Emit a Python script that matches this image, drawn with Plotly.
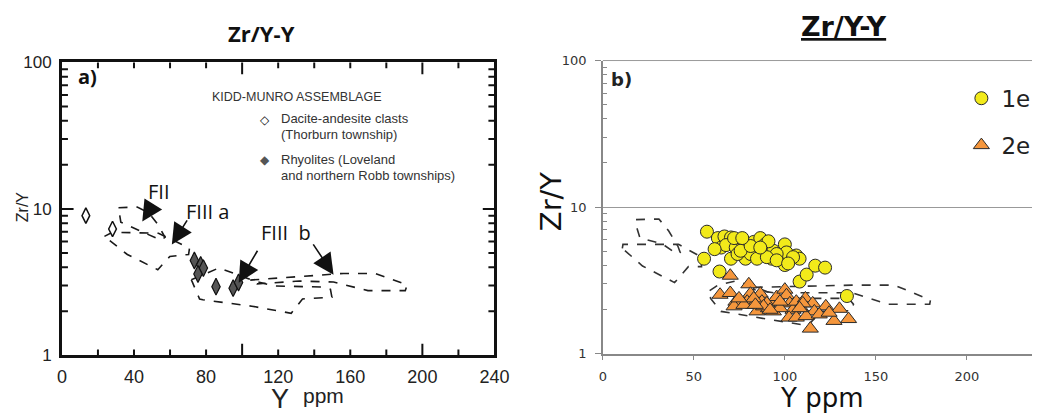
import plotly.graph_objects as go
import math

W, H = 1047, 417

# ---------------- panel a) data ----------------
dacite_y = [13.3, 28.1]
dacite_zry = [9.0, 7.3]
rhyolite_y = [73.5, 77.0, 78.5, 75.5, 85.5, 95.0, 98.0]
rhyolite_zry = [4.45, 4.15, 3.95, 3.6, 2.95, 2.88, 3.15]

# field outlines, panel a)
fii_a_y = [31.4, 41.8, 48.1, 53.6, 57.2, 55.0, 46.3, 32.7]
fii_a_zry = [10.2, 10.3, 9.44, 7.73, 6.40, 6.12, 6.83, 8.13]
fiiia_a_y = [23.6, 28.1, 53.6, 62.6, 70.8, 70.3, 59.9, 53.2, 36.3]
fiiia_a_zry = [6.50, 6.93, 6.83, 6.03, 5.40, 4.89, 4.74, 3.85, 4.89]
fiii_low_a_y = [71.8, 87.2, 107.2, 118.1, 145.3, 149.0, 149.8, 133.5, 127.2, 105.4, 78.2, 76.4]
fiii_low_a_zry = [3.29, 3.96, 3.21, 2.98, 2.93, 2.83, 2.50, 2.43, 1.94, 2.17, 2.40, 2.43]
fiiib_a_y = [104.5, 156.2, 173.6, 191.6, 190.5, 169.8, 150.7, 131.7, 108.3]
fiiib_a_zry = [3.27, 3.63, 3.63, 3.03, 2.77, 2.77, 3.17, 3.22, 3.08]

# ---------------- panel b) data ----------------
g1e_y = [57.2, 63.2, 66.8, 70.4, 65.0, 67.7, 73.0, 70.4, 75.7, 77.5, 79.3, 78.4,
         82.9, 86.5, 83.8, 89.2, 87.4, 91.9, 92.8, 97.3, 100.0, 100.9, 106.3, 108.1,
         100.0, 55.6, 64.1, 108.1, 112.0, 116.7, 122.1, 134.1, 61.4, 74.0, 81.2, 93.7,
         95.5, 104.5, 84.7, 90.1, 72.1, 75.7, 81.2, 95.5, 101.8, 76.6, 91.0, 86.5]
g1e_zry = [6.79, 6.14, 6.30, 6.20, 5.29, 5.50, 5.29, 4.44, 5.99, 5.84, 5.16, 4.44,
           5.78, 6.14, 5.03, 5.56, 4.78, 5.16, 4.44, 4.55, 5.56, 4.90, 4.67, 4.44,
           4.02, 4.44, 3.63, 3.10, 3.46, 3.98, 3.86, 2.47, 5.16, 4.78, 4.78, 5.03,
           4.78, 4.55, 4.44, 4.55, 6.14, 5.03, 5.42, 4.33, 4.12, 6.14, 5.84, 5.29]

g2e_y = [70.0, 64.4, 70.0, 73.1, 72.1, 80.2, 81.1, 79.3, 82.9, 86.5, 87.4, 84.7,
         91.0, 93.7, 95.5, 100.0, 100.9, 102.7, 104.5, 106.3, 109.0, 111.3, 115.3, 116.2,
         122.5, 130.0, 135.0, 127.0, 114.0, 102.3, 106.3, 111.7, 118.9, 124.3, 93.7, 90.1,
         82.9, 77.5, 74.8, 97.3, 109.9, 97.3, 88.3, 91.9, 83.8, 108.1]
g2e_zry = [3.40, 2.52, 2.59, 2.26, 2.10, 2.97, 2.56, 2.26, 2.15, 2.56, 2.26, 1.94,
           2.04, 2.26, 2.43, 2.73, 2.50, 2.20, 1.99, 2.26, 2.04, 2.38, 2.20, 1.94,
           2.10, 2.02, 1.72, 1.67, 1.48, 1.76, 1.76, 1.80, 1.85, 1.90, 1.94, 2.20,
           2.38, 2.15, 2.38, 2.04, 2.20, 2.26, 2.10, 1.99, 2.15, 2.04]

# field outlines, panel b)
fii_b_y = [18.2, 30.8, 36.2, 41.2, 42.5, 40.2, 32.6, 20.4, 18.8]
fii_b_zry = [8.21, 8.29, 6.86, 5.42, 4.90, 4.83, 5.61, 6.14, 7.13]
fiiia_b_y = [10.7, 11.05, 41.6, 47.9, 54.2, 54.2, 47.0, 39.4, 21.8]
fiiia_b_zry = [5.23, 5.56, 5.56, 5.03, 4.55, 3.92, 3.92, 3.05, 3.96]
fiii_low_b_y = [58.7, 63.2, 73.1, 86.5, 99.1, 135.0, 137.7, 136.8, 119.8, 112.6, 90.1, 64.9, 59.2]
fiii_low_b_zry = [2.69, 2.93, 3.13, 2.76, 2.38, 2.38, 2.17, 1.96, 1.94, 1.55, 1.72, 1.94, 2.38]
fiiib_b_y = [82.9, 136.8, 160.2, 180.0, 179.6, 156.6, 136.8, 93.7, 82.9]
fiiib_b_zry = [2.83, 2.93, 2.93, 2.32, 2.17, 2.17, 2.60, 2.60, 2.73]

# arrows in panel a): (tail Y, tail Zr/Y, tip Y, tip Zr/Y)
arrows_a = [
    (51.0, 10.96, 44.6, 8.20),
    (70.0, 8.55, 61.0, 5.72),
    (109.0, 5.31, 98.1, 3.14),
    (138.9, 5.87, 150.7, 3.56),
]

x_labels_a = [0, 40, 80, 120, 160, 200, 240]
x_long_a = [100, 200]
x_labels_b = [0, 50, 100, 150, 200]
major_log = [1, 10, 100]
minor_log = [2, 3, 4, 5, 6, 7, 8, 9, 20, 30, 40, 50, 60, 70, 80, 90]


def closed(seq):
    return list(seq) + [seq[0]]


def px(x):
    return x / W


def py(y):
    return 1 - y / H


fig = go.Figure()

# ---- panel a) fields ----
for xs, ys in [(fii_a_y, fii_a_zry), (fiiia_a_y, fiiia_a_zry),
               (fiii_low_a_y, fiii_low_a_zry), (fiiib_a_y, fiiib_a_zry)]:
    fig.add_trace(go.Scatter(x=closed(xs), y=closed(ys), mode="lines",
                             line=dict(color="#1a1a1a", width=1.6, dash="dash"),
                             xaxis="x", yaxis="y", showlegend=False, hoverinfo="skip"))

fig.add_trace(go.Scatter(x=dacite_y, y=dacite_zry, mode="markers",
                         marker=dict(symbol="diamond-tall", size=11, color="white",
                                     line=dict(color="#111", width=1.5)),
                         xaxis="x", yaxis="y", showlegend=False))
fig.add_trace(go.Scatter(x=rhyolite_y, y=rhyolite_zry, mode="markers",
                         marker=dict(symbol="diamond-tall", size=12, color="#555555",
                                     line=dict(color="#111", width=1.2)),
                         xaxis="x", yaxis="y", showlegend=False))

# ---- panel b) fields ----
for xs, ys in [(fii_b_y, fii_b_zry), (fiiia_b_y, fiiia_b_zry),
               (fiii_low_b_y, fiii_low_b_zry), (fiiib_b_y, fiiib_b_zry)]:
    fig.add_trace(go.Scatter(x=closed(xs), y=closed(ys), mode="lines",
                             line=dict(color="#333333", width=1.6, dash="dash"),
                             xaxis="x2", yaxis="y2", showlegend=False, hoverinfo="skip"))

fig.add_trace(go.Scatter(x=g1e_y, y=g1e_zry, mode="markers", name="1e",
                         legendgroup="g1",
                         marker=dict(symbol="circle", size=13, color="#F2EA1A",
                                     line=dict(color="#2a2a2a", width=1)),
                         xaxis="x2", yaxis="y2"))
fig.add_trace(go.Scatter(x=g2e_y, y=g2e_zry, mode="markers", name="2e",
                         legendgroup="g2",
                         marker=dict(symbol="triangle-up", size=14, color="#F5963C",
                                     line=dict(color="#2a2a2a", width=1)),
                         xaxis="x2", yaxis="y2"))

ann = []
# arrows
for tx, ty, hx, hy in arrows_a:
    ann.append(dict(x=hx, y=math.log10(hy), ax=tx, ay=math.log10(ty),
                    xref="x", yref="y", axref="x", ayref="y", text="",
                    showarrow=True, arrowhead=2, arrowsize=2.6, arrowwidth=1.6,
                    arrowcolor="#111"))

lab_font = dict(family="Open Sans, Arial", size=20, color="#111")
ann += [
    dict(x=px(157), y=py(191), text="FII", font=lab_font),
    dict(x=px(206), y=py(212), text="FIII a", font=lab_font),
    dict(x=px(286), y=py(234), text="FIII  b", font=lab_font),
    dict(x=px(84), y=py(71), text="<b>a)</b>",
         font=dict(family="Open Sans, Arial", size=20, color="#111")),
    dict(x=px(629), y=py(74), text="<b>b)</b>",
         font=dict(family="DejaVu Sans", size=18, color="#222")),
    # titles
    dict(x=px(262), y=py(25), text="<b>Zr/Y-Y</b>",
         font=dict(family="Open Sans, Arial", size=22, color="#111")),
    dict(x=px(855), y=py(18), text="<b><u>Zr/Y-Y</u></b>",
         font=dict(family="DejaVu Sans", size=27, color="#111")),
    # axis titles panel a)
    dict(x=px(18), y=py(207), text="Zr/Y", textangle=-90,
         font=dict(family="Liberation Sans", size=16, color="#222")),
    dict(x=px(280), y=py(409), text="Y",
         font=dict(family="Liberation Sans", size=27, color="#222")),
    dict(x=px(325), y=py(405), text="ppm",
         font=dict(family="Liberation Sans", size=21, color="#222")),
    # axis titles panel b)
    dict(x=px(832), y=py(408), text="Y ppm",
         font=dict(family="DejaVu Sans", size=26, color="#111")),
    dict(x=px(556), y=py(201), text="Zr/Y", textangle=-90,
         font=dict(family="DejaVu Sans", size=29, color="#111")),
    # legend block panel a)
    dict(x=px(209), y=py(92), text="KIDD-MUNRO ASSEMBLAGE", xanchor="left",
         font=dict(family="Liberation Sans", size=12.5, color="#333")),
    dict(x=px(265), y=py(116), text="◇", xanchor="center",
         font=dict(family="DejaVu Sans", size=12, color="#111")),
    dict(x=px(279), y=py(115), text="Dacite-andesite clasts", xanchor="left",
         font=dict(family="Liberation Sans", size=13, color="#333")),
    dict(x=px(279), y=py(131), text="(Thorburn township)", xanchor="left",
         font=dict(family="Liberation Sans", size=13, color="#333")),
    dict(x=px(265), y=py(158), text="◆", xanchor="center",
         font=dict(family="DejaVu Sans", size=12, color="#555")),
    dict(x=px(279), y=py(158), text="Rhyolites (Loveland", xanchor="left",
         font=dict(family="Liberation Sans", size=13, color="#333")),
    dict(x=px(279), y=py(174), text="and northern Robb townships)", xanchor="left",
         font=dict(family="Liberation Sans", size=13, color="#333")),
]
for a in ann:
    if "xref" not in a:
        a.update(xref="paper", yref="paper", showarrow=False)
        a.setdefault("xanchor", "center")
        a.setdefault("yanchor", "middle")

# tick marks for panel a): short every 20 / at log minors, long at 100, 200 / decades
tick_shapes = []
frame = dict(color="#111", width=2)
for v in range(20, 240, 20):
    ln = 0.040 if v in x_long_a else 0.020
    for y0, y1 in [(0, ln), (1, 1 - ln)]:
        tick_shapes.append(dict(type="line", xref="x", yref="y domain",
                                x0=v, x1=v, y0=y0, y1=y1, line=frame))
for v in minor_log + [10]:
    ln = 0.027 if v == 10 else 0.014
    for x0, x1 in [(0, ln), (1, 1 - ln)]:
        tick_shapes.append(dict(type="line", xref="x domain", yref="y",
                                x0=x0, x1=x1, y0=v, y1=v, line=frame))
# top rule of panel b)
tick_shapes.append(dict(type="line", xref="x2 domain", yref="y2 domain",
                        x0=0, x1=1, y0=1, y1=1, line=dict(color="#999", width=1)))

dom_xa = [58 / W, 499 / W]
dom_ya = [1 - 363 / H, 1 - 56 / H]
dom_xb = [609.5 / W, 1.0]
dom_yb = [1 - 361 / H, 1 - 54 / H]

fig.update_layout(
    width=W, height=H,
    margin=dict(l=0, r=0, t=0, b=0),
    paper_bgcolor="white", plot_bgcolor="white",
    annotations=ann,
    shapes=tick_shapes,
    # panel a) axes
    xaxis=dict(domain=dom_xa, range=[0, 240], anchor="y",
               tickvals=x_labels_a, ticks="",
               showline=True, linewidth=2.5, linecolor="#111", mirror=True,
               showgrid=False, zeroline=False, ticklabelstandoff=3,
               tickfont=dict(family="Liberation Sans", size=18, color="#222")),
    yaxis=dict(domain=dom_ya, type="log", range=[0, 2], anchor="x",
               tickvals=major_log, ticktext=[str(v) for v in major_log],
               ticks="", showline=True, linewidth=2.5, linecolor="#111", mirror=True,
               showgrid=False, zeroline=False, ticklabelstandoff=4,
               tickfont=dict(family="Liberation Sans", size=17, color="#222")),
    # panel b) axes
    xaxis2=dict(domain=dom_xb, range=[0, 235.8], anchor="y2",
                tickvals=x_labels_b,
                ticks="outside", ticklen=5, tickwidth=1.2, tickcolor="#888",
                showline=True, linewidth=1.5, linecolor="#888",
                showgrid=False, zeroline=False, ticklabelstandoff=5,
                tickfont=dict(family="DejaVu Sans", size=13, color="#333")),
    yaxis2=dict(domain=dom_yb, type="log", range=[0, 2], anchor="x2",
                tickvals=major_log, ticktext=[str(v) for v in major_log],
                ticks="outside", ticklen=6, tickwidth=1.2, tickcolor="#888",
                minor=dict(tickvals=minor_log, ticks="inside", ticklen=4,
                           tickwidth=1, tickcolor="#888", showgrid=False),
                showline=True, linewidth=1.5, linecolor="#888",
                showgrid=True, gridcolor="#999", gridwidth=1, zeroline=False,
                ticklabelstandoff=6,
                tickfont=dict(family="DejaVu Sans", size=13, color="#333")),
    showlegend=True,
    legend=dict(x=975 / W, y=1 - 71 / H, xanchor="left", yanchor="top",
                font=dict(family="DejaVu Sans", size=23, color="#222"),
                bgcolor="rgba(0,0,0,0)", tracegroupgap=14,
                itemsizing="trace"),
)

fig.write_html("out.html")
